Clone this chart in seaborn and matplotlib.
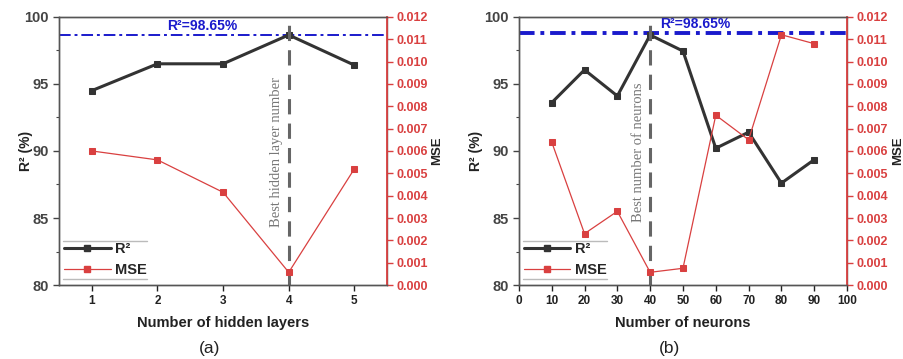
import matplotlib
matplotlib.use("Agg")
import matplotlib.pyplot as plt
import seaborn as sns
import numpy as np
from matplotlib.lines import Line2D
from matplotlib.ticker import MultipleLocator

# ---- data ----
layers = [1, 2, 3, 4, 5]
r2_layers = [94.5, 96.5, 96.5, 98.65, 96.4]
mse_layers = [0.0060, 0.0056, 0.00415, 0.00057, 0.0052]

neurons = [10, 20, 30, 40, 50, 60, 70, 80, 90]
r2_neurons = [93.6, 96.05, 94.1, 98.65, 97.45, 90.2, 91.4, 87.6, 89.35]
mse_neurons = [0.0064, 0.0023, 0.0033, 0.00057, 0.00075, 0.0076, 0.0065, 0.0112, 0.0108]

best_r2 = 98.65
best_label = "R\u00b2=98.65%"
xlabels = ["Number of hidden layers", "Number of neurons"]
best_texts = ["Best hidden layer number", "Best number of neurons"]
best_x = [4, 40]
panel_tags = ["(a)", "(b)"]

sns.set_theme(style="ticks")
plt.rcParams['font.family'] = ['Liberation Sans', 'DejaVu Sans']

fig = plt.figure(figsize=(9.04, 3.59), dpi=100)
RED = "#d94040"
BLACK = "#333333"
BLUE = "#1a1acc"

positions = [[0.0653, 0.206, 0.363, 0.747], [0.574, 0.206, 0.363, 0.747]]
datasets = [(layers, r2_layers, mse_layers), (neurons, r2_neurons, mse_neurons)]
ylab_x = [-0.079, -0.11]
mse_x = [1.135, 1.137]

for i in range(2):
    x, r2, mse = datasets[i]
    ax = fig.add_axes(positions[i])
    ax2 = ax.twinx()
    sns.lineplot(x=x, y=r2, ax=ax, color=BLACK, lw=2.2, marker='s', markersize=5,
                 markeredgecolor=BLACK, label="R\u00b2", legend=False)
    sns.lineplot(x=x, y=mse, ax=ax2, color=RED, lw=0.9, marker='s', markersize=5,
                 markeredgecolor=RED, label="MSE", legend=False)
    if i == 0:
        ax.set_xlim(0.5, 5.5)
        ax.set_xticks(layers)
        ax.axhline(best_r2, color=BLUE, lw=1.4, ls=(0, (6, 2, 1.5, 2)), zorder=1)
        ax.text(2.68, best_r2 + 0.15, best_label, color=BLUE, fontsize=10,
                fontweight='bold', ha='center', va='bottom')
        tx = 3.82
    else:
        ax.set_xlim(0, 100)
        ax.set_xticks(np.arange(0, 101, 10))
        ax.axhline(best_r2 + 0.15, color=BLUE, lw=2.8, ls=(0, (4, 1.5, 1, 1.5)), zorder=1)
        ax.text(43, best_r2 + 0.3, best_label, color=BLUE, fontsize=10,
                fontweight='bold', ha='left', va='bottom')
        tx = 36.6
    ax.vlines(best_x[i], 80, 99.5, color="#666666", lw=2.2, ls=(0, (5, 3)), zorder=2)
    ax.text(tx, 89.9, best_texts[i], rotation=90, ha='center', va='center',
            color="#777777", fontsize=10.5, family=['Liberation Serif', 'DejaVu Serif'])

    ax.set_ylim(80, 100)
    ax.set_yticks([80, 85, 90, 95, 100])
    ax.yaxis.set_minor_locator(MultipleLocator(2.5))
    ax2.set_ylim(0, 0.012)
    ax2.set_yticks(np.arange(0, 0.0121, 0.001))
    ax2.set_yticklabels([f"{v:.3f}" for v in np.arange(0, 0.0121, 0.001)])

    ax.tick_params(axis='y', labelsize=10.5, colors="#444444", length=4, width=1)
    ax.tick_params(axis='y', which='minor', length=2.5, width=0.8, color="#444444")
    for t in ax.get_yticklabels():
        t.set_fontweight('bold')
    ax.tick_params(axis='x', labelsize=8.5, colors="#222222", length=4, width=1)
    for t in ax.get_xticklabels():
        t.set_fontweight('bold')
    ax2.tick_params(axis='y', labelsize=9, colors=RED, length=4, width=1, pad=3)
    for t in ax2.get_yticklabels():
        t.set_fontweight('bold')

    for a in (ax, ax2):
        for s in a.spines.values():
            s.set_visible(True)
            s.set_color("#555555")
            s.set_linewidth(1.0)
    ax2.spines['right'].set_color(RED)
    ax2.spines['right'].set_linewidth(1.3)

    ax.set_ylabel("R\u00b2 (%)", fontsize=10, fontweight='bold', color="#222222")
    ax.yaxis.set_label_coords(ylab_x[i], 0.5)
    ax2.set_ylabel("MSE", fontsize=9.5, fontweight='bold', color="#222222")
    ax2.yaxis.set_label_coords(mse_x[i], 0.5)
    ax.set_xlabel(xlabels[i], fontsize=10.5, fontweight='bold', color="#222222", labelpad=6)
    ax.text(0.46, -0.235, panel_tags[i], transform=ax.transAxes, fontsize=12.5,
            ha='center', va='center', color="#222222")

    handles = [Line2D([], [], color=BLACK, lw=2.2, marker='s', markersize=4),
               Line2D([], [], color=RED, lw=0.9, marker='s', markersize=4)]
    ax2.legend(handles, ["R\u00b2", "MSE"], loc='lower left', bbox_to_anchor=(0.015, 0.03),
               frameon=False, handlelength=3.2,
               prop={'weight': 'bold', 'size': 10.5},
               borderaxespad=0, borderpad=0, handletextpad=0.3, labelspacing=0.45)
    ax2.add_line(Line2D([0.012, 0.268], [0.164, 0.164], transform=ax2.transAxes,
                        color="#bbbbbb", lw=1))
    ax2.add_line(Line2D([0.012, 0.268], [0.022, 0.022], transform=ax2.transAxes,
                        color="#bbbbbb", lw=1))

fig.savefig("out.png", dpi=100)
